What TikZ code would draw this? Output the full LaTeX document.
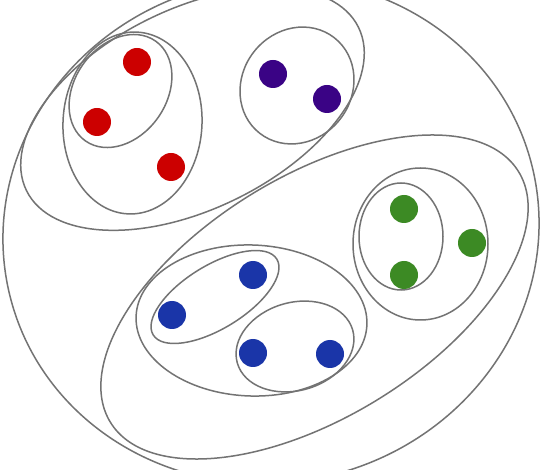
\documentclass[tikz,border=0pt]{standalone}
\usepackage{tikz}
\definecolor{ringgray}{HTML}{737373}
\definecolor{dotred}{HTML}{CC0000}
\definecolor{dotpurple}{HTML}{3A0385}
\definecolor{dotgreen}{HTML}{3C8A24}
\definecolor{dotblue}{HTML}{1A35A8}
\tikzset{
  ring/.style={draw=ringgray, line width=1.5pt},
  dot/.style={circle, inner sep=0pt, minimum size=28pt, draw=none}
}
\begin{document}
\begin{tikzpicture}[x=1pt,y=1pt]
\useasboundingbox (0,0) rectangle (552,-470);
\clip (0,0) rectangle (552,-470);
\fill[white] (0,0) rectangle (552,-470);
% outer set
\draw[ring, rotate around={14:(271,-231)}] (271,-231) ellipse [x radius=269, y radius=251.5];
% top-left group
\draw[ring, rotate around={26.2:(192.5,-109)}] (192.5,-109) ellipse [x radius=185, y radius=100];
\draw[ring, rotate around={-3:(132.5,-123)}] (132.5,-123) ellipse [x radius=69.5, y radius=91];
\draw[ring, rotate around={55:(120.5,-91)}] (120.5,-91) ellipse [x radius=61, y radius=46];
\draw[ring, rotate around={52:(297,-85.5)}] (297,-85.5) ellipse [x radius=60.6, y radius=54.7];
% lower-right group
\draw[ring, rotate around={31.55:(314.5,-297)}] (314.5,-297) ellipse [x radius=239.5, y radius=120.5];
\draw[ring, rotate around={-2:(251.5,-320.5)}] (251.5,-320.5) ellipse [x radius=115.5, y radius=75.5];
\draw[ring, rotate around={31.5:(215,-297)}] (215,-297) ellipse [x radius=72.5, y radius=31.6];
\draw[ring, rotate around={16:(295,-346.5)}] (295,-346.5) ellipse [x radius=60, y radius=44];
\draw[ring] (420.5,-244) ellipse [x radius=67.5, y radius=76];
\draw[ring] (401,-236.5) ellipse [x radius=42, y radius=53.5];
% dots
\node[dot, fill=dotred] (r1) at (137,-62) {};
\node[dot, fill=dotred] (r2) at (97,-122) {};
\node[dot, fill=dotred] (r3) at (171,-167) {};
\node[dot, fill=dotpurple] (p1) at (273,-74) {};
\node[dot, fill=dotpurple] (p2) at (327,-99) {};
\node[dot, fill=dotgreen] (g1) at (404,-209) {};
\node[dot, fill=dotgreen] (g2) at (472,-243) {};
\node[dot, fill=dotgreen] (g3) at (404,-275) {};
\node[dot, fill=dotblue] (b1) at (253,-275) {};
\node[dot, fill=dotblue] (b2) at (172,-315) {};
\node[dot, fill=dotblue] (b3) at (253,-353) {};
\node[dot, fill=dotblue] (b4) at (330,-354) {};
\end{tikzpicture}
\end{document}
